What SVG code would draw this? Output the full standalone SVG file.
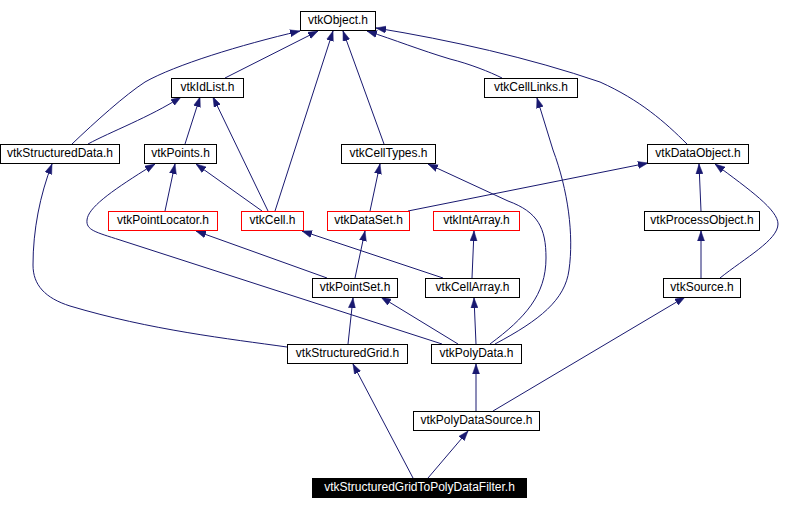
<svg xmlns="http://www.w3.org/2000/svg" width="812" height="509" viewBox="0 0 812 509">
<style>
.n rect{fill:#fff;stroke:#000;stroke-width:1}
.n.r rect{stroke:#f00}
.n text{font-family:"Liberation Sans",Arial,sans-serif;font-size:12px;fill:#000;text-anchor:middle}
.n.f rect{fill:#000}
.n.f text{fill:#fff}
.e path{fill:none;stroke:#191970;stroke-width:1;marker-end:url(#ah)}
</style>
<defs>
<marker id="ah" markerUnits="userSpaceOnUse" markerWidth="10" markerHeight="8" refX="10" refY="4" orient="auto">
<path d="M0,0.5 L10,4 L0,7.5 z" fill="#191970" stroke="#191970" stroke-width="0.5"/>
</marker>
</defs>
<rect width="812" height="509" fill="#fff"/>
<g id="edges" class="e">
<path d="M72,144 C95,122 125,95 145,82 C175,65 240,45 300,31"/>
<path d="M225,78 L318,31"/>
<path d="M275,211 L333,31"/>
<path d="M384,144 L343,31"/>
<path d="M502,78 C490,72 470,64 450,59 C420,50 395,40 367,31"/>
<path d="M687,144 C665,122 640,100 600,82 C530,58 450,40 376,28"/>
<path d="M88,144 C110,132 150,117 181,97"/>
<path d="M185,144 L200,97"/>
<path d="M268,211 L213,97"/>
<path d="M165,211 L175,164"/>
<path d="M262,211 L196,164"/>
<path d="M442,344 L120,240 C95,232 86,230 87,220 C88,208 110,192 145,170 L155,164"/>
<path d="M287,347 C230,339 150,330 70,306 C45,298 33,285 33,265 C33,230 40,195 52,164"/>
<path d="M370,211 L380,164"/>
<path d="M408,211 L648,163"/>
<path d="M701,211 L699,164"/>
<path d="M720,278 C745,258 778,240 778,224 C778,210 750,190 715,164"/>
<path d="M701,278 L701,231"/>
<path d="M327,278 L196,231"/>
<path d="M443,278 L302,231"/>
<path d="M355,278 L365,231"/>
<path d="M472,278 L474,231"/>
<path d="M490,344 C525,318 546,295 546,258 C546,228 538,212 508,201 L428,164"/>
<path d="M495,344 C540,320 565,300 569,270 C574,235 568,190 553,150 L537,98"/>
<path d="M458,344 L381,297"/>
<path d="M476,344 L474,298"/>
<path d="M348,344 L353,298"/>
<path d="M476,411 L476,364"/>
<path d="M493,411 L685,297"/>
<path d="M428,478 L468,431"/>
<path d="M413,478 L353,364"/>
</g>
<g id="vtkObject" class="n"><rect x="300.5" y="11.5" width="75" height="19"/><text x="338" y="24">vtkObject.h</text></g>
<g id="vtkIdList" class="n"><rect x="171.5" y="78.5" width="72" height="19"/><text x="207.5" y="91">vtkIdList.h</text></g>
<g id="vtkCellLinks" class="n"><rect x="484.5" y="78.5" width="93" height="19"/><text x="531" y="91">vtkCellLinks.h</text></g>
<g id="vtkStructuredData" class="n"><rect x="0.5" y="144.5" width="119" height="19"/><text x="60" y="157">vtkStructuredData.h</text></g>
<g id="vtkPoints" class="n"><rect x="144.5" y="144.5" width="72" height="19"/><text x="180.5" y="157">vtkPoints.h</text></g>
<g id="vtkCellTypes" class="n"><rect x="341.5" y="144.5" width="94" height="19"/><text x="388.5" y="157">vtkCellTypes.h</text></g>
<g id="vtkDataObject" class="n"><rect x="647.5" y="144.5" width="101" height="19"/><text x="698" y="157">vtkDataObject.h</text></g>
<g id="vtkPointLocator" class="n r"><rect x="108.5" y="211.5" width="109" height="19"/><text x="163" y="224">vtkPointLocator.h</text></g>
<g id="vtkCell" class="n r"><rect x="241.5" y="211.5" width="62" height="19"/><text x="272.5" y="224">vtkCell.h</text></g>
<g id="vtkDataSet" class="n r"><rect x="327.5" y="211.5" width="82" height="19"/><text x="368.5" y="224">vtkDataSet.h</text></g>
<g id="vtkIntArray" class="n r"><rect x="433.5" y="211.5" width="86" height="19"/><text x="476.5" y="224">vtkIntArray.h</text></g>
<g id="vtkProcessObject" class="n"><rect x="644.5" y="211.5" width="115" height="19"/><text x="702" y="224">vtkProcessObject.h</text></g>
<g id="vtkPointSet" class="n"><rect x="312.5" y="278.5" width="85" height="19"/><text x="355" y="291">vtkPointSet.h</text></g>
<g id="vtkCellArray" class="n"><rect x="425.5" y="278.5" width="94" height="19"/><text x="472.5" y="291">vtkCellArray.h</text></g>
<g id="vtkSource" class="n"><rect x="663.5" y="278.5" width="77" height="19"/><text x="702" y="291">vtkSource.h</text></g>
<g id="vtkStructuredGrid" class="n"><rect x="287.5" y="344.5" width="120" height="19"/><text x="347.5" y="357">vtkStructuredGrid.h</text></g>
<g id="vtkPolyData" class="n"><rect x="431.5" y="344.5" width="90" height="19"/><text x="476.5" y="357">vtkPolyData.h</text></g>
<g id="vtkPolyDataSource" class="n"><rect x="413.5" y="411.5" width="126" height="19"/><text x="476.5" y="424">vtkPolyDataSource.h</text></g>
<g id="vtkStructuredGridToPolyDataFilter" class="n f"><rect x="312.5" y="478.5" width="214" height="19"/><text x="419.5" y="491">vtkStructuredGridToPolyDataFilter.h</text></g>
</svg>
